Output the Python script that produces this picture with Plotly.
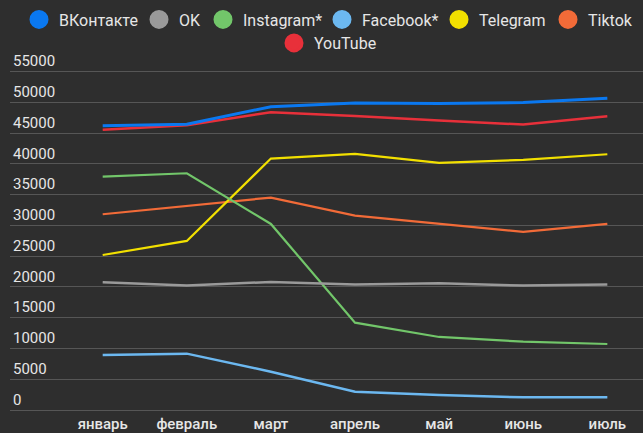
import plotly.graph_objects as go

months = ["январь", "февраль", "март", "апрель", "май", "июнь", "июль"]
names = ["ВКонтакте", "OK", "Instagram*", "Facebook*", "Telegram", "Tiktok", "YouTube"]
vk = [46200, 46450, 49300, 49900, 49800, 49970, 50680]
ok = [20760, 20220, 20810, 20380, 20600, 20220, 20380]
instagram = [37940, 38480, 30240, 14200, 11870, 11110, 10730]
facebook = [8940, 9160, 6230, 2980, 2440, 2060, 2060]
telegram = [25200, 27480, 40870, 41630, 40160, 40650, 41570]
tiktok = [31820, 33230, 34530, 31600, 30240, 28940, 30240]
youtube = [45530, 46290, 48400, 47800, 47040, 46390, 47750]
y_ticks = [0, 5000, 10000, 15000, 20000, 25000, 30000, 35000, 40000, 45000, 50000, 55000]

series = [vk, ok, instagram, facebook, telegram, tiktok, youtube]
colors = ["#0a78f0", "#9a9a9a", "#72c66a", "#6cb8f0", "#f2e000", "#f26b38", "#e8303a"]
widths = [3, 2.5, 2.2, 2.5, 2.2, 2.2, 2.5]

# legend placement (container pixels): circle centre x, row centre y
legend_cx = [39, 159, 223, 342, 459, 568, 294]
legend_cy = [17.5, 17.5, 17.5, 17.5, 17.5, 17.5, 41]

W, H = 643, 433

fig = go.Figure()
x_idx = list(range(len(months)))
order = [6, 5, 4, 3, 2, 1, 0]
for i in order:
    fig.add_trace(go.Scatter(
        x=x_idx, y=series[i], mode="lines", name=names[i],
        line=dict(color=colors[i], width=widths[i]),
        showlegend=False, legendgroup=names[i], hoverinfo="x+y+name"))

legend_layouts = {}
for i, n in enumerate(names):
    key = "legend" if i == 0 else f"legend{i + 1}"
    fig.add_trace(go.Scatter(
        x=[None], y=[None], mode="markers", name=n, legendgroup=n,
        marker=dict(color=colors[i], size=16, symbol="circle",
                    line=dict(color=colors[i], width=3)),
        legend=key))
    legend_layouts[key] = dict(
        orientation="h", xref="container", yref="container",
        x=(legend_cx[i] - 20) / W, xanchor="left",
        y=1 - (legend_cy[i] - 15) / H, yanchor="top",
        font=dict(family="Roboto", size=16, color="#e6e6e6"),
        bgcolor="rgba(0,0,0,0)", itemsizing="trace", borderwidth=0)

fig.update_layout(
    width=W, height=H,
    paper_bgcolor="#2e2e2e", plot_bgcolor="#2e2e2e",
    margin=dict(l=10, r=0, t=47.1, b=23, autoexpand=False),
    xaxis=dict(range=[-1.102, 6.424], tickmode="array", tickvals=x_idx, ticktext=months,
               showgrid=False, zeroline=False, showline=False, ticks="",
               ticklabelstandoff=3,
               tickfont=dict(family="Roboto", size=15, color="#e6e6e6", weight=500)),
    yaxis=dict(range=[0, 59000], tickmode="array", tickvals=y_ticks,
               ticktext=[str(v) for v in y_ticks],
               ticklabelposition="inside top", showgrid=True, gridcolor="#565656", gridwidth=1,
               zeroline=True, zerolinecolor="#565656", zerolinewidth=1, showline=False, ticks="",
               tickfont=dict(family="Roboto", size=15, color="#e6e6e6")),
    **legend_layouts,
)
fig.write_html("out.html", config={"displayModeBar": False},
               post_script="document.body.style.margin='0px';document.body.style.overflow='hidden';")
